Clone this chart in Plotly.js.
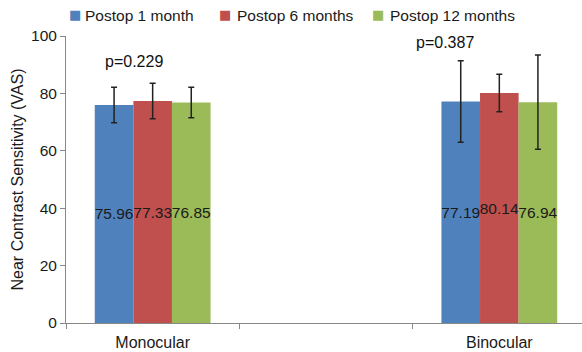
<!DOCTYPE html>
<html><head><meta charset="utf-8">
<script src="https://cdn.plot.ly/plotly-3.0.1.min.js"></script>
<style>html,body{margin:0;padding:0;background:#fff}#chart{width:582px;height:352px}</style>
</head><body><div id="chart"></div>
<script>
const categories = ['Monocular', ' ', 'Binocular'];
const groups = ['Monocular', 'Binocular'];
const seriesNames = ['Postop 1 month', 'Postop 6 months', 'Postop 12 months'];
const month1 = [75.96, 77.19];
const month6 = [77.33, 80.14];
const month12 = [76.85, 76.94];
const sd1 = [6.2, 14.2];
const sd6 = [6.2, 6.5];
const sd12 = [5.3, 16.4];
const pLabels = ['p=0.229', 'p=0.387'];
const pX = [-0.108, 1.687];
const pY = [91.0, 97.8];

const colors = ['#4F81BD', '#C0504D', '#9BBB59'];
const vals = [month1, month6, month12];
const sds = [sd1, sd6, sd12];
const font = 'Liberation Sans, Arial, sans-serif';

const W = 582, H = 352, M = {l: 66, r: 0, t: 36, b: 29};
const px2x = p => (p - M.l) / (W - M.l - M.r);
const py2y = p => (H - M.b - p) / (H - M.t - M.b);

const traces = vals.map((v, i) => ({
  type: 'bar', name: seriesNames[i], x: groups, y: v,
  marker: {color: colors[i]},
  text: v.map(n => n.toFixed(2)), textposition: 'inside', insidetextanchor: 'middle',
  constraintext: 'none', textangle: 0, cliponaxis: false,
  textfont: {family: font, size: 15.5, color: '#1a1a1a'},
  error_y: {type: 'data', array: sds[i], visible: true, color: '#222', thickness: 1.5, width: 3},
  hoverinfo: 'none', showlegend: false
}));

// legend drawn as text: coloured square + series name
const legSquare = [74.5, 225, 378];
const legText = [83, 235, 388];
const legendAnns = [];
seriesNames.forEach((n, i) => {
  legendAnns.push({xref: 'paper', yref: 'paper', x: px2x(legSquare[i]), y: py2y(15),
    xanchor: 'center', yanchor: 'middle', showarrow: false, text: '■',
    font: {family: 'DejaVu Sans', size: 13, color: colors[i]}});
  legendAnns.push({xref: 'paper', yref: 'paper', x: px2x(legText[i]), y: py2y(16),
    xanchor: 'left', yanchor: 'middle', showarrow: false, text: n,
    font: {family: font, size: 15.5, color: '#1a1a1a'}});
});

const layout = {
  width: W, height: H, margin: M,
  paper_bgcolor: '#fff', plot_bgcolor: '#fff',
  barmode: 'group', bargap: 0.332, bargroupgap: 0,
  font: {family: font, size: 15, color: '#222'},
  showlegend: false,
  xaxis: {type: 'category', categoryorder: 'array', categoryarray: categories,
    range: [-0.5, 2.477], tickson: 'boundaries', ticks: 'outside', ticklen: 5,
    tickcolor: '#888', showline: true, linecolor: '#888', linewidth: 1, ticklabelstandoff: 5,
    showgrid: false, zeroline: false, tickfont: {family: font, size: 16, color: '#1a1a1a'}},
  yaxis: {range: [0, 100], dtick: 20, ticks: 'outside', ticklen: 5, tickcolor: '#888',
    showline: true, linecolor: '#888', linewidth: 1, showgrid: false, zeroline: false,
    tickfont: {family: font, size: 15.5, color: '#1a1a1a'},
    title: {text: 'Near Contrast Sensitivity (VAS)', font: {family: font, size: 16, color: '#1a1a1a'}, standoff: 3}},
  annotations: pLabels.map((t, i) => ({x: pX[i], y: pY[i], xref: 'x', yref: 'y', text: t,
    showarrow: false, font: {family: font, size: 16, color: '#111'}})).concat(legendAnns)
};
Plotly.newPlot('chart', traces, layout, {displayModeBar: false, staticPlot: true});
</script></body></html>
